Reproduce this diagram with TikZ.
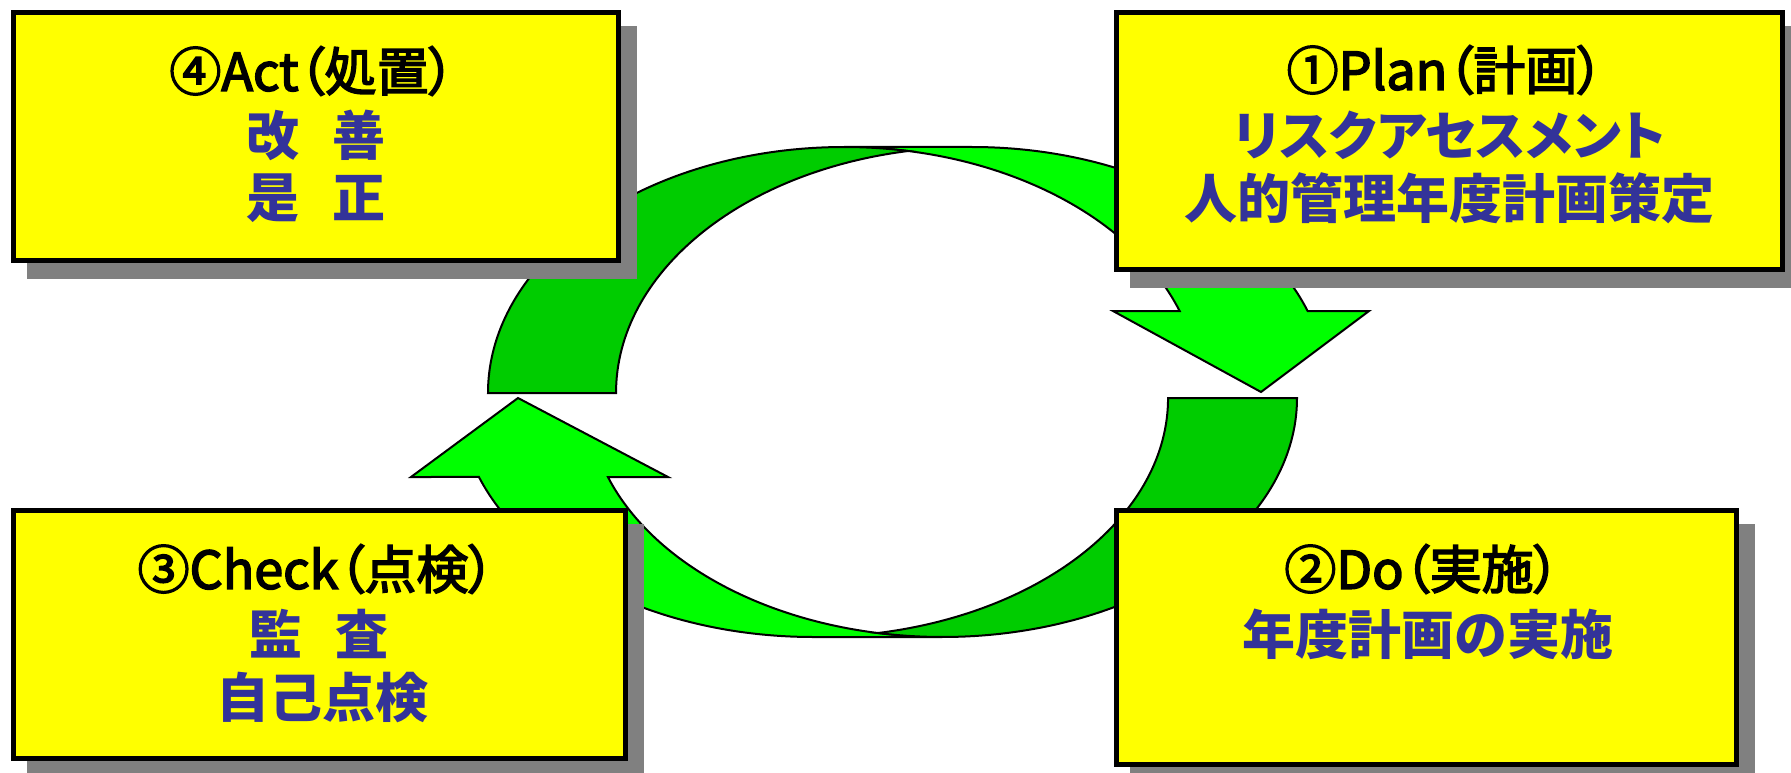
\documentclass[tikz,border=0pt]{standalone}
\usepackage{fontspec}
\setmainfont{Noto Sans CJK JP}[RawFeature=+palt]
\newfontfamily\titlefont{Noto Sans CJK JP}[RawFeature=+palt, FakeBold=3]
\definecolor{lg}{RGB}{0,255,0}
\definecolor{dg}{RGB}{0,204,0}
\definecolor{sg}{RGB}{128,128,128}
\definecolor{txtblue}{RGB}{51,51,153}
\definecolor{boxy}{RGB}{255,255,0}
\begin{document}
\begin{tikzpicture}[x=1pt,y=1pt,
  pdcabox/.style={draw=black, line width=5pt, fill=boxy, inner sep=0pt,
     preaction={draw=sg, fill=sg, transform canvas={shift={(16pt,-16pt)}}}},
  titletext/.style={inner sep=0pt, font=\titlefont\fontsize{52}{60}\selectfont, text=black},
  bodytext/.style={inner sep=0pt, font=\fontsize{53}{60}\selectfont\bfseries, text=txtblue},
  band/.style={draw=black, line width=2pt, line join=miter},
  ringA/.style={x radius=356pt, y radius=246pt},
  ringB/.style={x radius=354.5pt, y radius=239pt}]
\useasboundingbox (0,0) rectangle (1791,-773);
\clip (0,0) rectangle (1791,-773);
% upper curved arrow (Act -> Plan -> Do)
\path[band, fill=lg] (1261,-392) -- (1113,-311) -- (1179.64,-311)
  arc[start angle=19.47, end angle=90, ringA] -- (972,-147)
  arc[start angle=90, end angle=19.47, ringA] -- (1369,-311) -- cycle;
\path[band, fill=dg] (488,-393)
  arc[start angle=180, end angle=79.64, ringA]
  arc[start angle=100.36, end angle=180, ringA] -- cycle;
% lower curved arrow (Do -> Check -> Act)
\path[band, fill=lg] (518,-398) -- (668,-477) -- (607.92,-477)
  arc[start angle=199.30, end angle=270, ringB] -- (813.5,-637)
  arc[start angle=270, end angle=199.30, ringB] -- (411,-477) -- cycle;
\path[band, fill=dg] (1297,-398)
  arc[start angle=0, end angle=-100.48, ringB]
  arc[start angle=-79.52, end angle=0, ringB] -- cycle;
% boxes
\node[pdcabox, minimum width=605pt, minimum height=248pt] (act) at (316,-136.5) {};
\node[pdcabox, minimum width=666pt, minimum height=257pt] (plan) at (1449.5,-141) {};
\node[pdcabox, minimum width=612pt, minimum height=248pt] (check) at (319.5,-634.5) {};
\node[pdcabox, minimum width=620pt, minimum height=254pt] (do) at (1426.5,-637.5) {};
% texts
\node[titletext] (acttitle) at (312,-71) {④Act（処置）};
\node[bodytext] (act1) at (316,-135) {改\hspace{0.62em}善};
\node[bodytext] (act2) at (316,-198) {是\hspace{0.62em}正};
\node[titletext] (plantitle) at (1445,-70) {①Plan（計画）};
\node[bodytext] (plan1) at (1450,-135) {リスクアセスメント};
\node[bodytext] (plan2) at (1449.5,-198) {人的管理年度計画策定};
\node[titletext] (checktitle) at (316,-569) {③Check（点検）};
\node[bodytext] (check1) at (319,-634) {監\hspace{0.62em}査};
\node[bodytext] (check2) at (322,-697) {自己点検};
\node[titletext] (dotitle) at (1422,-569) {②Do（実施）};
\node[bodytext] (do1) at (1428,-634) {年度計画の実施};
\end{tikzpicture}
\end{document}
